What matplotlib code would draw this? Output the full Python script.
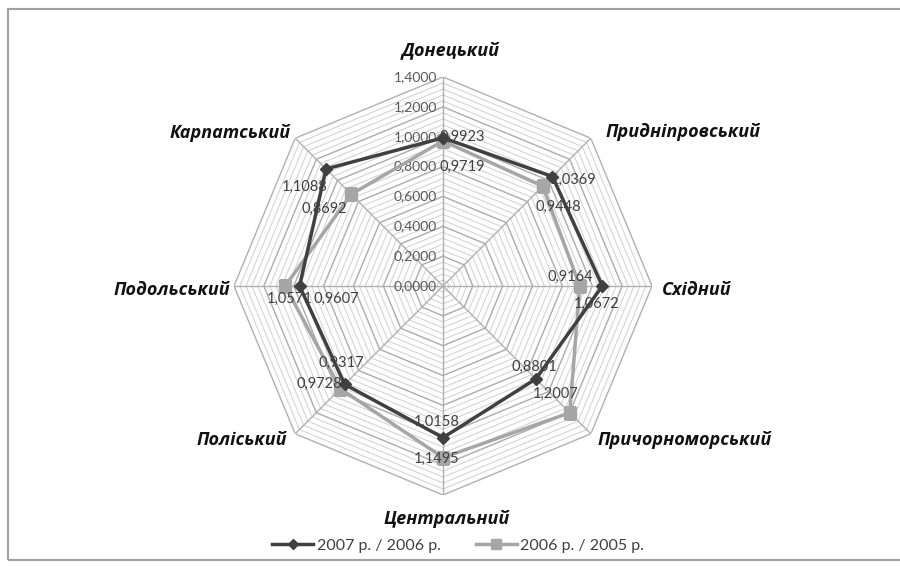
import numpy as np
import matplotlib
matplotlib.use("Agg")
import matplotlib.pyplot as plt
from matplotlib.lines import Line2D
from matplotlib.patches import Rectangle

plt.rcParams['font.family'] = ['Lato', 'DejaVu Sans']

# regions, clockwise from the top
regions = ['Донецький', 'Придніпровський', 'Східний', 'Причорноморський',
           'Центральний', 'Поліський', 'Подольський', 'Карпатський']
idx_0706 = [0.9923, 1.0369, 1.0672, 0.8801, 1.0158, 0.9317, 0.9607, 1.1088]
idx_0605 = [0.9719, 0.9448, 0.9164, 1.2007, 1.1495, 0.9728, 1.0571, 0.8692]
series_names = ['2007 р. / 2006 р.', '2006 р. / 2005 р.']
r_ticks = [0.0, 0.2, 0.4, 0.6, 0.8, 1.0, 1.2, 1.4]

# label offsets in pixels (style only)
off_0706 = [(19, 1), (21, -3), (-6, -18), (-2, 12), (-6, 16), (-3, 21), (37, -13), (-21, -18)]
off_0605 = [(19, -26), (16, -21), (-9, 9), (-14, 19), (-6, -1), (-21, 5), (4, -13), (-27, -15)]
cat_off = [(8, 27, 'center'), (15, 6, 'left'), (10, -4, 'left'), (7, -6, 'left'),
           (4, -24, 'center'), (-8, -6, 'right'), (-4, -4, 'right'), (-5, 5, 'right')]

def fmt(v):
    return f"{v:.4f}".replace('.', ',')

fig = plt.figure(figsize=(9, 5.67), dpi=100)
ax = fig.add_axes([234 / 900, 72 / 567, 418 / 900, 418 / 567], projection='polar')
ax.set_theta_offset(np.pi / 2)
ax.set_theta_direction(-1)
ax.set_ylim(0, 1.4)
ax.grid(False)
ax.spines['polar'].set_visible(False)
ax.set_xticks([])
ax.set_yticks([])
ax.patch.set_alpha(0)

n = len(regions)
theta = np.arange(n) * 2 * np.pi / n
theta_c = np.append(theta, theta[0])

# fine minor rings, then major rings
for r in np.arange(0.04, 1.4, 0.04):
    ax.plot(theta_c, [r] * (n + 1), color='#cfcfcf', lw=0.7, zorder=1)
for r in r_ticks[1:]:
    ax.plot(theta_c, [r] * (n + 1), color='#b0b0b0', lw=1.0, zorder=1)
for t in theta:
    ax.plot([t, t], [0, 1.4], color='#b0b0b0', lw=1.0, zorder=1)

# radial tick labels along the top spoke
for r in r_ticks:
    ax.annotate(fmt(r), (0, r), xytext=(-6, 0), textcoords='offset pixels',
                ha='right', va='center', fontsize=10, color='#595959',
                annotation_clip=False)

# series
ax.plot(theta_c, idx_0605 + idx_0605[:1], color='#a6a6a6', lw=2.5,
        marker='s', ms=8, mfc='#a6a6a6', mec='#a6a6a6', zorder=3)
ax.plot(theta_c, idx_0706 + idx_0706[:1], color='#404040', lw=2.5,
        marker='D', ms=6, mfc='#404040', mec='#404040', zorder=4)

for t, v, o in zip(theta, idx_0706, off_0706):
    ax.annotate(fmt(v), (t, v), xytext=o, textcoords='offset pixels',
                ha='center', va='center', fontsize=10.5, color='#404040',
                zorder=5, annotation_clip=False)
for t, v, o in zip(theta, idx_0605, off_0605):
    ax.annotate(fmt(v), (t, v), xytext=o, textcoords='offset pixels',
                ha='center', va='center', fontsize=10.5, color='#404040',
                zorder=5, annotation_clip=False)

# category labels at the outer vertices
for t, name, (dx, dy, ha) in zip(theta, regions, cat_off):
    ax.annotate(name, (t, 1.4), xytext=(dx, dy), textcoords='offset pixels',
                ha=ha, va='center', fontsize=13, fontweight='bold',
                fontstyle='italic', color='#111111', family=['Open Sans', 'DejaVu Sans'],
                annotation_clip=False)

handles = [
    Line2D([], [], color='#404040', lw=2.5, marker='D', ms=5, mfc='#404040'),
    Line2D([], [], color='#a6a6a6', lw=2.5, marker='s', ms=7, mfc='#a6a6a6'),
]
fig.legend(handles, series_names, loc='center', bbox_to_anchor=(458 / 900, 1 - 546 / 567),
           ncol=2, frameon=False, fontsize=11.5, handlelength=2.6, handletextpad=0.2,
           columnspacing=2.2, labelcolor='#404040')

# outer frame
fig.patches.append(Rectangle((8 / 900, 1 - 560 / 567), 900 / 900, 551 / 567,
                             transform=fig.transFigure, fill=False,
                             edgecolor='#a0a0a0', lw=1.5))

fig.savefig('out.png', dpi=100)
